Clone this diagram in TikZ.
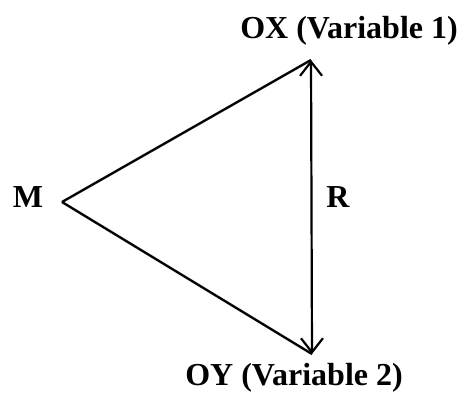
\documentclass[tikz,border=0pt]{standalone}
\usepackage{fontspec}
\setmainfont{Liberation Serif}
\usetikzlibrary{arrows.meta}
\tikzset{
  lbl/.style={font=\fontsize{32}{36}\selectfont\bfseries, inner sep=0pt, anchor=base},
  edge/.style={line width=2.2pt, black},
  shadowline/.style={line width=3pt, black!18},
  tip/.style={-{Straight Barb[length=14pt,width=22pt,line width=2.2pt]}}
}
\begin{document}
\begin{tikzpicture}[x=1pt,y=-1pt]
\useasboundingbox (0,0) rectangle (462,392);
\coordinate (apex) at (62,202);
\coordinate (top) at (311,60);
\coordinate (bot) at (312,354);
\node[lbl] (OX) at (349,38) {OX (Variable 1)};
\node[lbl] (OY) at (294,385) {OY (Variable 2)};
\node[lbl] (M) at (28,207) {M};
\node[lbl] (R) at (338,207) {R};
\begin{scope}[shift={(1.5,2.5)}]
  \draw[shadowline] (apex) -- (top);
  \draw[shadowline] (apex) -- (bot);
\end{scope}
\draw[edge] (apex) -- (top);
\draw[edge] (apex) -- (bot);
\draw[edge, {Straight Barb[length=14pt,width=22pt,line width=2.2pt]}-{Straight Barb[length=14pt,width=22pt,line width=2.2pt]}] (top) -- (bot);
\end{tikzpicture}
\end{document}
